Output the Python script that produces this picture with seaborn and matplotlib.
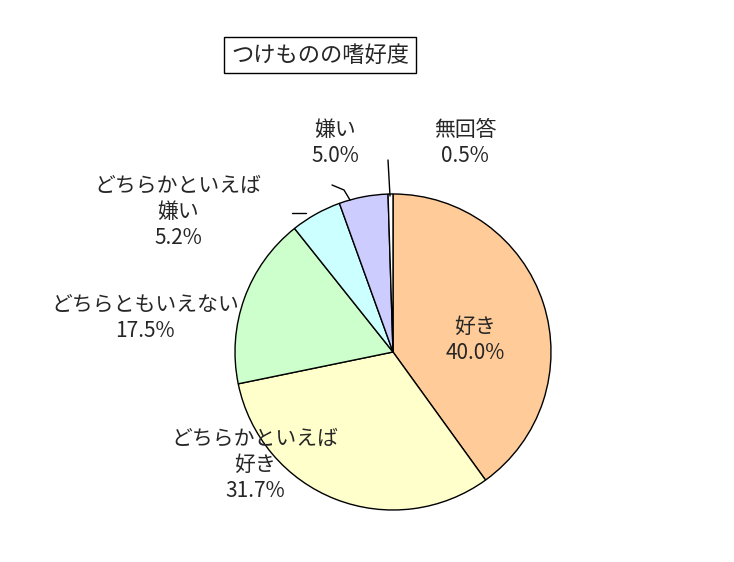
import matplotlib
matplotlib.use('Agg')
import matplotlib.pyplot as plt
import seaborn as sns

sns.set_theme(style='white')
plt.rcParams['font.family'] = ['Noto Sans CJK JP', 'DejaVu Sans']

# data
categories = ['好き', 'どちらかといえば\n好き', 'どちらともいえない', 'どちらかといえば\n嫌い', '嫌い', '無回答']
values = [40.0, 31.7, 17.5, 5.2, 5.0, 0.5]
colors = ['#FFCC99', '#FFFFCC', '#CCFFCC', '#CCFFFF', '#CCCCFF', '#FFFFFF']
title = 'つけものの嗜好度'

# label placement (pixel coords, y from top)
label_pos = [(475, 340), (255, 465), (145, 318), (178, 212), (335, 143), (465, 143)]

W, H = 734, 562
cx, cy, r = 393, 352, 158

fig = plt.figure(figsize=(W / 100, H / 100), dpi=100)
ax = fig.add_axes([0, 0, 1, 1])
ax.set_aspect('equal')
ax.axis('off')

ax.pie(values, colors=colors, startangle=90, counterclock=False,
       center=(cx, H - cy), radius=r,
       wedgeprops=dict(edgecolor='black', linewidth=1.0))
ax.set_xlim(0, W)
ax.set_ylim(0, H)

for cat, v, (x, y) in zip(categories, values, label_pos):
    ax.text(x, H - y, f'{cat}\n{v:.1f}%', ha='center', va='center', fontsize=15,
            linespacing=1.25)

# leader lines for small slices
ax.plot([292, 306], [H - 213, H - 213], color='black', lw=1)
ax.plot([332, 344, 350], [H - 185, H - 190, H - 200], color='black', lw=1)
ax.plot([388, 390], [H - 160, H - 196], color='black', lw=1)

ax.text(320, H - 55, title, ha='center', va='center', fontsize=16,
        bbox=dict(boxstyle='square,pad=0.3', fc='white', ec='black', lw=1))

fig.savefig('out.png', dpi=100)
